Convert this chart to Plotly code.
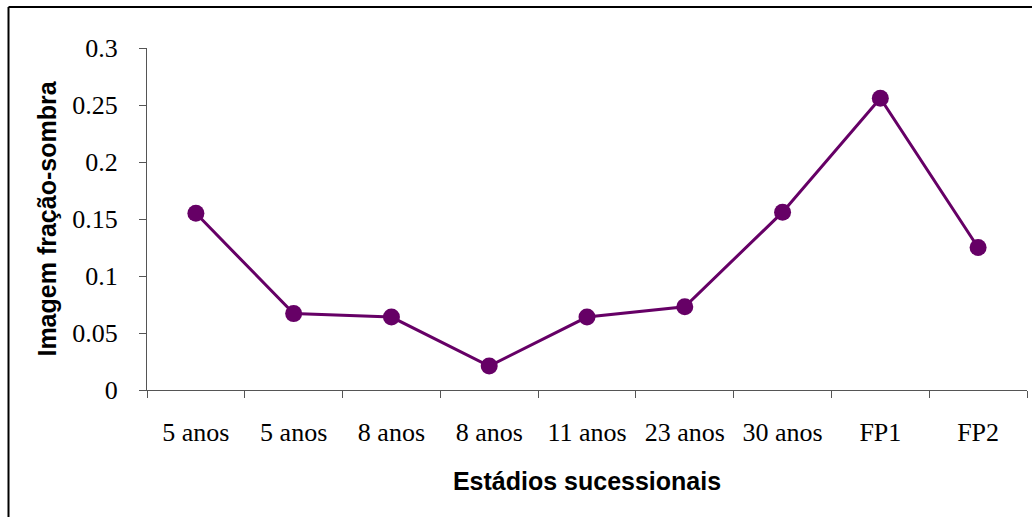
import plotly.graph_objects as go

categories = ["5 anos", "5 anos", "8 anos", "8 anos", "11 anos", "23 anos", "30 anos", "FP1", "FP2"]
values = [0.155, 0.067, 0.064, 0.021, 0.064, 0.073, 0.156, 0.256, 0.125]
y_ticks = [0, 0.05, 0.1, 0.15, 0.2, 0.25, 0.3]
y_tick_labels = ["0", "0.05", "0.1", "0.15", "0.2", "0.25", "0.3"]

ids = [f"c{i}" for i in range(len(categories))]

fig = go.Figure()
fig.add_trace(go.Scatter(
    x=ids, y=values, mode="lines+markers",
    line=dict(color="#660066", width=3),
    marker=dict(color="#660066", size=17),
    showlegend=False, cliponaxis=False,
))

W, H = 1032, 517
L, R, T, B = 147, 5, 48, 127
pw, ph = W - L - R, H - T - B

fig.update_layout(
    width=W, height=H,
    margin=dict(l=L, r=R, t=T, b=B),
    paper_bgcolor="white", plot_bgcolor="white",
    font=dict(family="Liberation Serif", color="black", size=26),
    xaxis=dict(
        type="category", categoryorder="array", categoryarray=ids,
        tickmode="array", tickvals=ids, ticktext=categories,
        tickson="boundaries", ticks="outside", ticklen=7, tickcolor="#555",
        showline=True, linecolor="#555", linewidth=1, showgrid=False,
        tickfont=dict(family="Liberation Serif", size=26, color="black"),
        ticklabelstandoff=19,
        title=dict(text="<b>Estádios sucessionais</b>",
                   font=dict(family="Liberation Sans", size=25, color="black"),
                   standoff=26),
        range=[-0.5, len(ids) - 0.5], zeroline=False,
    ),
    yaxis=dict(
        range=[0, 0.3], tickmode="array", tickvals=y_ticks, ticktext=y_tick_labels,
        ticks="outside", ticklen=7, tickcolor="#555",
        showline=True, linecolor="#555", linewidth=1, showgrid=False, zeroline=False,
        tickfont=dict(family="Liberation Serif", size=26, color="black"),
        ticklabelstandoff=16,
        title=dict(text="<b>Imagem fração-sombra</b>",
                   font=dict(family="Liberation Sans", size=25, color="black"),
                   standoff=8),
    ),
)

def px_x(p):
    return (p - L) / pw

def px_y(p):
    return (T + ph - p) / ph

# outer frame: top and left edges only
fig.add_shape(type="line", xref="paper", yref="paper",
              x0=px_x(8.5), x1=px_x(1032), y0=px_y(7), y1=px_y(7),
              line=dict(color="black", width=2), layer="below")
fig.add_shape(type="line", xref="paper", yref="paper",
              x0=px_x(8.5), x1=px_x(8.5), y0=px_y(7), y1=px_y(517),
              line=dict(color="black", width=2), layer="below")

fig.write_html("out.html", config={"displayModeBar": False},
               post_script="document.body.style.margin='0';")
